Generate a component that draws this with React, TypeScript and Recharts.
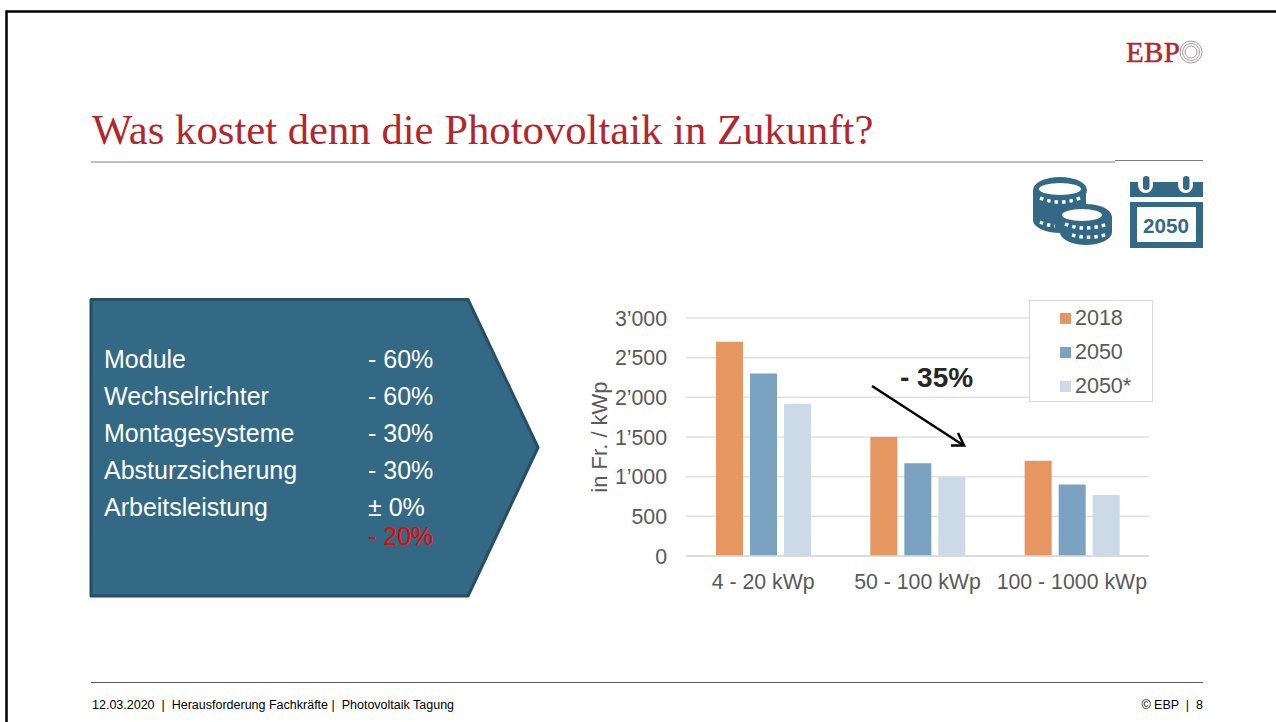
import { Bar, BarChart, CartesianGrid, Legend, XAxis, YAxis } from "recharts"

const sizeClasses = ["4 - 20 kWp", "50 - 100 kWp", "100 - 1000 kWp"]
const costs2018 = [2700, 1500, 1200]
const costs2050 = [2300, 1170, 900]
const costs2050Star = [1920, 1000, 770]
const yTicks = [0, 500, 1000, 1500, 2000, 2500, 3000]

const reductionLabels = ["Module", "Wechselrichter", "Montagesysteme", "Absturzsicherung", "Arbeitsleistung", ""]
const reductionValues = ["- 60%", "- 60%", "- 30%", "- 30%", "± 0%", "- 20%"]

const data = sizeClasses.map((name, i) => ({
  name,
  a: costs2018[i],
  b: costs2050[i],
  c: costs2050Star[i],
}))

const SANS = "'Liberation Sans', Arial, sans-serif"
const SERIF = "'Liberation Serif', 'Times New Roman', serif"
const GREY = "#595959"
const TEAL = "#336985"

// 1000 -> 1'000 with the typographic apostrophe used on the slide
const formatTick = (v: number) => (v >= 1000 ? `${Math.floor(v / 1000)}’${String(v % 1000).padStart(3, "0")}` : String(v))

function LegendBox({ payload }: any) {
  return (
    <div style={{ width: 122, height: 100, background: "#fff", border: "1px solid #d9d9d9" }}>
      {(payload || []).map((entry: any) => (
        <div key={entry.value} style={{ display: "flex", alignItems: "center", height: 34, paddingLeft: 30, fontFamily: SANS, fontSize: 21.5, color: GREY }}>
          <span style={{ width: 11, height: 11, background: entry.color, marginRight: 4 }} />
          {entry.value}
        </div>
      ))}
    </div>
  )
}

function SlideBackdrop() {
  return (
    <svg width={1276} height={722} style={{ position: "absolute", left: 0, top: 0 }}>
      {/* window frame */}
      <path d="M6.5 722V11.5H1276" fill="none" stroke="#000" strokeWidth={2.5} />

      {/* rules */}
      <line x1={91} x2={1115} y1={162} y2={162} stroke="#7f7f7f" strokeWidth={1.2} />
      <line x1={1115} x2={1203} y1={160.5} y2={160.5} stroke="#7f7f7f" strokeWidth={1.2} />
      <line x1={91} x2={1203} y1={682.5} y2={682.5} stroke="#595959" strokeWidth={1} />

      {/* logo */}
      <text x={1126} y={62} fontFamily={SERIF} fontSize={29} fill="#b3262e" stroke="#b3262e" strokeWidth={0.5} textLength={54}>EBP</text>
      {[11, 8.5, 6].map((r) => (
        <circle key={r} cx={1191} cy={52} r={r} fill="none" stroke="#8a7f7a" strokeWidth={0.8} />
      ))}

      {/* coins */}
      <g fill={TEAL}>
        <ellipse cx={1060} cy={190} rx={27} ry={13} />
        <rect x={1033} y={190} width={53} height={30} />
        <ellipse cx={1060} cy={220} rx={27} ry={13} />
        <ellipse cx={1086} cy={217} rx={26} ry={13} />
        <rect x={1060} y={217} width={52} height={15} />
        <ellipse cx={1086} cy={232} rx={26} ry={13} />
        <ellipse cx={1060} cy={189} rx={21} ry={6} fill="#fff" />
        <ellipse cx={1082} cy={215} rx={20} ry={6} fill="#fff" />
        <path d="M1040 198q20 8 40 0" fill="none" stroke="#fff" strokeWidth={3.5} strokeDasharray="3.5 4" />
        <path d="M1040 222q6 3 15 4" fill="none" stroke="#fff" strokeWidth={3.5} strokeDasharray="3.5 4" />
        <path d="M1065 224q20 8 43 0" fill="none" stroke="#fff" strokeWidth={3.5} strokeDasharray="3.5 4" />
        <path d="M1072 235q18 5 36 -1" fill="none" stroke="#fff" strokeWidth={3.5} strokeDasharray="3.5 4" />
      </g>

      {/* calendar */}
      <g>
        <rect x={1130} y={182} width={73} height={15} fill={TEAL} />
        <path d="M1138 182v3a7.5 8 0 0 0 15 0v-3zM1178 182v3a7.5 8 0 0 0 15 0v-3z" fill="#fff" />
        <rect x={1143} y={176} width={6.5} height={14} rx={3.2} fill={TEAL} />
        <rect x={1183} y={176} width={6.5} height={14} rx={3.2} fill={TEAL} />
        <rect x={1130} y={202} width={73} height={46} fill={TEAL} />
        <rect x={1137} y={207} width={59} height={35} fill="#fff" />
        <text x={1166} y={233} textAnchor="middle" fontFamily={SANS} fontWeight="bold" fontSize={20.7} fill={TEAL}>2050</text>
      </g>

      {/* pentagon */}
      <path d="M91 299.5H468L538 447.5L468 596H91Z" fill={TEAL} stroke="#264f66" strokeWidth={3} strokeLinejoin="round" />
    </svg>
  )
}

export default function App() {
  return (
    <div style={{ position: "relative", width: 1276, height: 722, background: "#fff", overflow: "hidden" }}>
      <style>{"body{margin:0}"}</style>
      <SlideBackdrop />

      <div style={{ position: "absolute", left: 92, top: 104, fontFamily: SERIF, fontSize: 42.7, lineHeight: "52px", color: "#b3262e", whiteSpace: "nowrap" }}>
        Was kostet denn die Photovoltaik in Zukunft?
      </div>

      {reductionLabels.map((label, i) => {
        const top = [341, 378, 415, 452, 489, 518][i]
        return (
          <div key={i} style={{ position: "absolute", left: 104, top, height: 36, width: 400, fontFamily: SANS, fontSize: 25, lineHeight: "36px", color: "#fff" }}>
            <span>{label}</span>
            <span style={{ position: "absolute", left: 264, color: i === 5 ? "#ff0000" : "#fff" }}>{reductionValues[i]}</span>
          </div>
        )
      })}

      <div style={{ position: "absolute", left: 580, top: 290 }}>
        <BarChart
          width={580}
          height={320}
          data={data}
          margin={{ top: 28, right: 11, bottom: 24, left: 0 }}
          barSize={27}
          barGap={7}
        >
          <CartesianGrid vertical={false} stroke="#e1e1e1" strokeWidth={1.5} />
          <XAxis
            dataKey="name"
            axisLine={{ stroke: "#d9d9d9", strokeWidth: 1.5 }}
            tickLine={false}
            interval={0}
            tickMargin={12}
            tick={{ fontFamily: SANS, fontSize: 21.3, fill: GREY }}
          />
          <YAxis
            width={106}
            domain={[0, 3000]}
            ticks={yTicks}
            tickFormatter={formatTick}
            axisLine={false}
            tickLine={false}
            tickMargin={13}
            tick={{ fontFamily: SANS, fontSize: 21.3, fill: GREY }}
            label={{
              value: "in Fr. / kWp",
              angle: -90,
              position: "insideLeft",
              offset: 19,
              style: { fontFamily: SANS, fontSize: 22, fill: GREY, textAnchor: "middle" },
            }}
          />
          <Legend
            layout="vertical"
            align="center"
            verticalAlign="middle"
            content={<LegendBox />}
            wrapperStyle={{ position: "absolute", left: 449, top: 10, width: 124, height: 102 }}
          />
          <Bar dataKey="a" name="2018" fill="#e59661" isAnimationActive={false} />
          <Bar dataKey="b" name="2050" fill="#7ca2c2" isAnimationActive={false} />
          <Bar dataKey="c" name="2050*" fill="#cbdae6" isAnimationActive={false} />
        </BarChart>
      </div>

      {/* reduction note over the chart */}
      <svg width={1276} height={722} style={{ position: "absolute", left: 0, top: 0, pointerEvents: "none" }}>
        <text x={900} y={387} fontFamily={SANS} fontWeight="bold" fontSize={28} fill="#262626">- 35%</text>
        <line x1={872} y1={386} x2={963} y2={445} stroke="#000" strokeWidth={2.5} />
        <path d="M951 445.5H964L958 433" fill="none" stroke="#000" strokeWidth={2.5} />
      </svg>

      <div style={{ position: "absolute", left: 92, top: 698, fontFamily: SANS, fontSize: 12.5, lineHeight: "14px", color: "#000", whiteSpace: "pre" }}>
        {"12.03.2020  |  Herausforderung Fachkräfte |  Photovoltaik Tagung"}
      </div>
      <div style={{ position: "absolute", right: 73, top: 698, fontFamily: SANS, fontSize: 12.5, lineHeight: "14px", color: "#000", whiteSpace: "pre" }}>
        {"© EBP  |  8"}
      </div>
    </div>
  )
}
